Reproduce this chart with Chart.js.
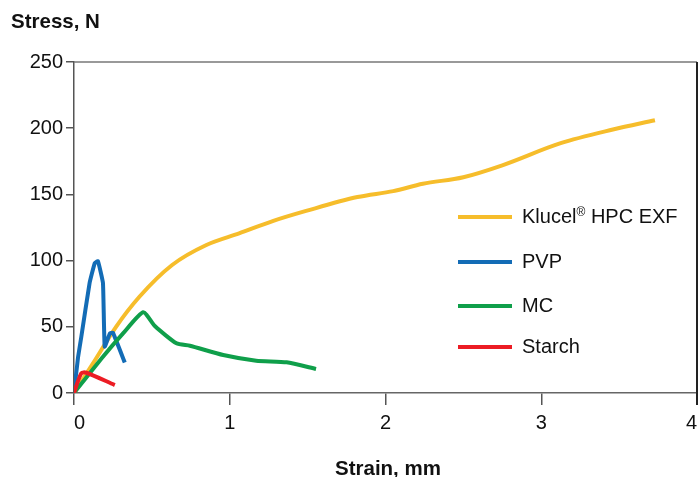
<!DOCTYPE html>
<html>
<head>
<meta charset="utf-8">
<script src="https://cdn.jsdelivr.net/npm/chart.js@4.4.1/dist/chart.umd.min.js"></script>
<style>
  html, body { margin: 0; padding: 0; background: #fff; }
  #wrap { position: relative; width: 699px; height: 477px; font-family: "Liberation Sans", Arial, sans-serif; color: #111; }
  #chart { position: absolute; left: 0; top: 0; }
  .title { position: absolute; font-weight: bold; font-size: 20.5px; white-space: nowrap; }
  #legend { position: absolute; left: 458px; top: 0; }
  .item { position: absolute; left: 0; white-space: nowrap; font-size: 20px; }
  .item span.swatch { position: absolute; left: 0; width: 54px; height: 4px; }
  .item span.label { position: absolute; left: 64px; line-height: 20px; }
  sup { font-size: 12px; vertical-align: 7px; line-height: 0; }
</style>
</head>
<body>
<div id="wrap">
  <canvas id="chart" width="699" height="477"></canvas>
  <div class="title" style="left:11px; top:9px;">Stress, N</div>
  <div class="title" style="left:388px; top:456px; transform:translateX(-50%);">Strain, mm</div>
  <div id="legend"></div>
</div>
<script>
// series (strain in mm, stress in N)
const klucelX = [0, 0.12, 0.27, 0.42, 0.63, 0.85, 1.06, 1.28, 1.49, 1.82, 2.05, 2.24, 2.5, 2.75, 3.12, 3.46, 3.73];
const klucelY = [0, 22, 50, 72.7, 96.7, 111.8, 120.6, 130, 137.5, 148, 152.5, 158, 163, 172, 188.5, 199, 206];

const pvpX = [0, 0.026, 0.047, 0.1, 0.133, 0.154, 0.186, 0.197, 0.23, 0.25, 0.326];
const pvpY = [0, 27, 42.5, 83, 98, 99.5, 83, 35, 45, 45.5, 23];

const mcX = [0, 0.186, 0.315, 0.444, 0.519, 0.658, 0.744, 0.958, 1.17, 1.365, 1.554];
const mcY = [0, 27.4, 45, 61, 50.6, 37.5, 35.7, 28.7, 24.4, 23.2, 18.1];

const starchX = [0, 0.047, 0.079, 0.262];
const starchY = [0, 14.9, 15.3, 6];

const seriesNames = ["Klucel® HPC EXF", "PVP", "MC", "Starch"];
const seriesColors = ["#F6BD2B", "#136CB6", "#0F9F4A", "#EC1C24"];
const legendY = [217, 262, 306, 347];

const xTicks = [0, 1, 2, 3, 4];
const yTicks = [0, 50, 100, 150, 200, 250];

function toPoints(xs, ys) {
  return xs.map((x, i) => ({ x: x, y: ys[i] }));
}

const datasets = [
  { label: seriesNames[0], data: toPoints(klucelX, klucelY), borderColor: seriesColors[0], cubicInterpolationMode: "monotone", order: 4 },
  { label: seriesNames[1], data: toPoints(pvpX, pvpY), borderColor: seriesColors[1], tension: 0.1, order: 3 },
  { label: seriesNames[2], data: toPoints(mcX, mcY), borderColor: seriesColors[2], tension: 0.2, order: 2 },
  { label: seriesNames[3], data: toPoints(starchX, starchY), borderColor: seriesColors[3], tension: 0.3, order: 1 }
].map(d => Object.assign(d, { borderWidth: 4, pointRadius: 0, fill: false, borderCapStyle: "butt", borderJoinStyle: "round" }));

// top and right edges of the plot box
const frame = {
  id: "frame",
  afterDraw(chart) {
    const { ctx, chartArea: a } = chart;
    ctx.save();
    ctx.strokeStyle = "#777";
    ctx.lineWidth = 1.5;
    ctx.beginPath();
    ctx.moveTo(a.left, a.top);
    ctx.lineTo(a.right, a.top);
    ctx.stroke();
    ctx.strokeStyle = "#222";
    ctx.lineWidth = 2;
    ctx.beginPath();
    ctx.moveTo(a.right, a.top);
    ctx.lineTo(a.right, a.bottom + 12);
    ctx.stroke();
    ctx.restore();
  }
};

const tickFont = { family: "'Liberation Sans', Arial, sans-serif", size: 20 };

new Chart(document.getElementById("chart"), {
  type: "line",
  data: { datasets: datasets },
  options: {
    responsive: false,
    animation: false,
    layout: { padding: { top: 62, right: 2, left: 0, bottom: 0 } },
    plugins: { legend: { display: false }, tooltip: { enabled: false } },
    scales: {
      x: {
        type: "linear",
        min: 0,
        max: 4,
        afterBuildTicks: s => { s.ticks = xTicks.map(v => ({ value: v })); },
        afterFit: s => { s.height = 84; s.paddingLeft = 0; s.paddingRight = 0; },
        grid: { drawOnChartArea: false, drawTicks: true, tickLength: 12, color: "#555", lineWidth: 1.5 },
        border: { display: true, color: "#666", width: 1.5 },
        ticks: { color: "#111", font: tickFont, padding: 6, maxRotation: 0, align: "inner" }
      },
      y: {
        min: 0,
        max: 250,
        afterBuildTicks: s => { s.ticks = yTicks.map(v => ({ value: v })); },
        afterFit: s => { s.width = 74; s.paddingTop = 0; s.paddingBottom = 0; },
        grid: { drawOnChartArea: false, drawTicks: true, tickLength: 8, color: "#555", lineWidth: 1.5 },
        border: { display: true, color: "#555", width: 1.5 },
        ticks: { color: "#111", font: tickFont, padding: 3 }
      }
    }
  },
  plugins: [frame]
});

// legend inside the plot, as html text
const legend = document.getElementById("legend");
seriesNames.forEach((name, i) => {
  const item = document.createElement("div");
  item.className = "item";
  item.style.top = legendY[i] + "px";
  const sw = document.createElement("span");
  sw.className = "swatch";
  sw.style.background = seriesColors[i];
  sw.style.top = "-2px";
  const lb = document.createElement("span");
  lb.className = "label";
  lb.style.top = "-11px";
  lb.innerHTML = name.replace("®", "<sup>®</sup>");
  item.appendChild(sw);
  item.appendChild(lb);
  legend.appendChild(item);
});
</script>
</body>
</html>
